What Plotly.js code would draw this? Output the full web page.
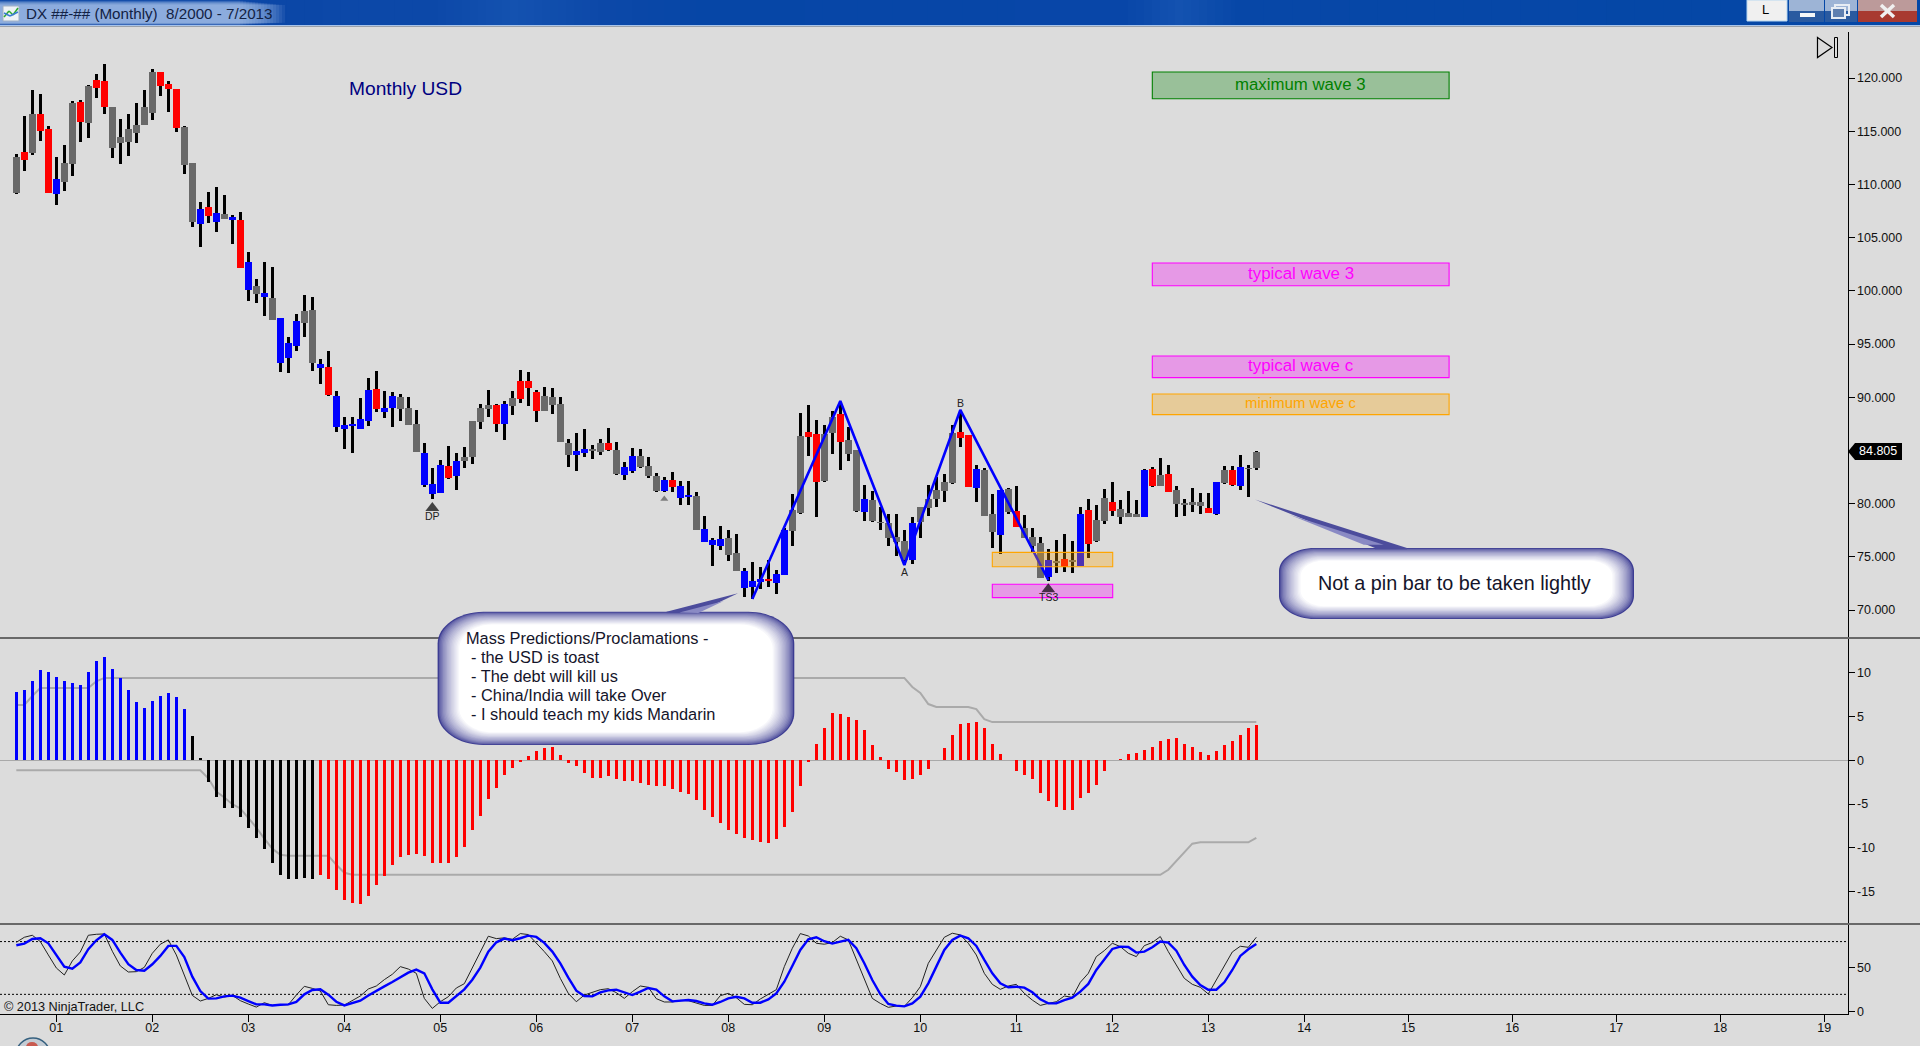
<!DOCTYPE html>
<html>
<head>
<meta charset="utf-8">
<title>DX Monthly</title>
<script src="https://cdn.plot.ly/plotly-3.0.1.min.js"></script>
<style>html,body{margin:0;padding:0;background:#dcdcdc;overflow:hidden}#chart{width:1920px;height:1046px}</style>
</head>
<body>
<div id="chart"></div>
<script>
// ---------- candles, Aug 2000 - Jul 2013 ----------
const bodyTop = [112.57,113.04,116.62,116.62,115.21,110.51,112.01,117.68,117.77,119.25,
119.81,119.72,117.27,114.45,115.21,115.58,117.27,120.56,120.56,119.44,
118.97,115.39,112.01,107.69,107.88,107.31,107.22,106.94,106.65,102.71,
100.45,99.79,99.32,97.44,95.09,97.16,98.10,98.19,93.11,92.83,
90.11,87.38,87.48,87.95,90.67,90.76,88.98,90.11,90.01,88.98,
87.48,84.75,81.84,83.62,83.53,84.00,84.37,87.76,88.98,89.26,
89.26,89.35,89.92,91.52,91.52,90.48,90.11,90.01,89.35,85.69,
84.94,85.13,85.13,85.69,85.69,85.03,83.43,84.47,84.48,83.54,
82.60,82.22,82.22,81.66,80.81,80.72,77.62,76.58,76.68,76.77,
75.36,73.67,72.73,72.92,72.88,73.39,77.52,79.40,86.36,86.73,
86.54,86.54,88.14,88.42,85.98,85.04,80.44,80.34,78.27,78.18,
76.86,76.49,78.18,79.68,80.44,81.28,82.03,86.61,86.73,86.45,
83.26,83.16,79.03,81.28,81.38,79.31,77.71,76.86,76.30,74.70,
74.58,74.80,74.70,79.03,79.40,78.46,80.53,80.15,79.50,79.12,
79.03,83.16,83.26,82.69,82.79,81.28,80.03,80.15,80.15,79.59,
82.03,83.16,83.16,83.44,83.38,84.85];
const bodyBot = [109.22,112.32,112.95,115.05,109.22,109.13,110.26,111.95,115.90,115.80,
119.06,117.27,113.42,113.89,114.02,114.83,115.58,116.74,119.25,118.97,
115.30,111.85,106.50,106.28,107.03,106.47,106.75,106.65,102.14,100.07,
99.73,99.42,97.25,93.24,93.71,94.81,97.00,93.18,92.74,90.20,
87.19,87.01,87.29,87.01,87.76,88.88,88.60,88.98,88.88,87.38,
84.84,81.74,80.90,80.99,82.40,82.59,84.00,84.37,87.66,88.88,
87.48,87.48,89.17,89.82,90.86,88.70,88.70,89.29,85.78,84.56,
84.56,84.75,84.94,84.84,85.03,82.78,82.68,83.06,83.41,82.60,
81.19,81.19,81.56,80.53,80.62,77.52,76.39,76.11,76.02,75.17,
73.67,72.07,72.16,72.63,72.76,72.54,73.29,77.43,79.12,86.26,
82.03,82.13,86.64,85.79,84.66,79.31,79.21,78.37,78.15,76.77,
76.39,74.70,74.70,78.27,79.59,80.44,81.19,81.94,86.17,81.56,
81.47,78.84,77.33,77.05,79.21,77.80,76.77,76.02,73.01,73.10,
74.45,74.07,74.55,74.14,76.21,76.49,78.37,79.31,78.74,78.74,
78.74,78.74,81.66,81.66,81.09,79.97,79.90,79.90,79.78,79.12,
79.03,81.94,81.75,81.66,83.29,83.35];
const wickHigh = [112.86,116.43,118.87,118.50,115.49,112.57,113.70,117.84,117.93,119.34,
120.38,121.31,117.27,116.15,116.62,117.65,118.87,120.85,120.56,119.72,
118.97,115.49,112.01,108.35,109.28,109.75,109.00,107.12,107.41,103.65,
101.11,102.71,102.24,97.44,95.66,97.82,99.60,99.42,93.58,94.34,
90.58,88.13,88.13,89.92,91.80,92.46,90.58,90.48,90.29,90.01,
88.79,85.69,83.34,84.09,85.41,84.75,85.31,87.76,89.35,90.67,
89.35,89.64,90.58,92.55,92.36,90.67,90.95,90.86,90.01,86.07,
86.63,87.01,85.50,86.07,87.10,85.78,83.90,85.22,85.13,84.38,
82.91,82.50,82.97,82.13,82.13,81.09,78.84,76.77,77.90,77.52,
77.15,73.95,74.51,74.04,74.70,73.76,77.71,80.91,88.52,89.27,
87.86,87.39,88.71,89.55,87.20,85.04,81.75,81.19,79.68,79.03,
79.03,77.52,78.74,79.68,81.75,82.50,82.79,87.39,88.80,86.45,
83.63,83.35,80.91,81.28,81.47,81.66,78.93,77.71,76.86,75.74,
76.58,77.15,76.49,79.68,80.44,79.87,81.38,82.03,80.34,81.19,
80.34,83.26,83.44,84.29,83.63,81.66,80.44,81.47,81.00,81.00,
82.03,83.54,83.54,84.57,83.63,84.95];
const wickLow = [109.13,111.26,112.76,114.08,109.22,108.06,109.38,110.79,113.98,114.36,
118.12,116.62,112.48,111.92,112.67,113.89,115.58,116.05,118.31,116.80,
114.92,110.98,106.00,104.12,106.37,105.53,106.75,104.40,102.14,99.04,
98.85,97.63,97.25,92.36,92.27,94.34,95.66,92.46,91.23,90.11,
86.72,85.13,84.75,87.01,87.29,88.60,88.04,87.19,87.76,87.38,
84.84,81.55,80.43,80.99,82.31,81.27,83.34,83.72,87.01,88.13,
86.72,85.97,88.32,89.45,89.17,87.66,88.70,88.41,85.78,83.43,
83.06,84.37,84.19,84.56,84.94,82.68,82.21,82.87,83.35,82.41,
81.09,81.09,81.09,79.87,79.87,77.52,76.39,74.14,75.64,74.61,
73.67,71.22,71.04,71.98,72.16,71.51,73.29,76.02,79.03,84.48,
78.74,82.03,84.66,83.16,84.01,79.21,78.37,78.27,77.52,76.02,
75.08,74.23,74.33,76.77,78.84,79.68,80.15,81.85,85.32,81.56,
80.15,78.84,75.83,75.27,79.03,77.80,76.77,75.45,73.01,72.73,
73.48,73.57,73.48,74.14,74.89,76.39,78.09,78.84,78.09,78.74,
78.74,78.74,81.56,81.66,81.09,78.74,78.84,79.21,79.03,79.12,
78.93,81.85,81.66,81.28,80.62,83.16];
const candleKeys = "grgrrbggrgrrggggggrrrggbrbgbrbgbgbbbggbrbbbbbrbbgggbbbrbggggrbgrrrggggbbggrgbbgggbrbbgbbbggbbbrbbggrrggrggbgggggbgggggrrbggbgrgggbgrgbrggrgggbrgrggggrbgrbgg";

// ---------- oscillator histogram + bands ----------
const histValues = [7.80,8.03,9.06,10.32,10.09,9.52,9.06,8.83,8.60,10.09,
11.35,11.81,10.44,9.40,8.03,6.65,5.96,6.77,7.34,7.68,
7.22,5.85,2.75,0.23,-2.52,-4.24,-5.39,-5.39,-6.42,-7.68,
-8.83,-10.09,-11.70,-13.07,-13.53,-13.53,-13.42,-13.53,-13.07,-13.53,
-14.79,-15.94,-16.28,-16.40,-15.48,-14.22,-13.19,-11.93,-11.01,-10.78,
-10.67,-10.89,-11.70,-11.70,-11.70,-11.01,-9.86,-7.91,-6.31,-4.47,
-3.21,-1.72,-0.92,-0.15,0.46,1.03,1.38,1.49,0.57,-0.34,
-0.69,-1.49,-2.06,-2.06,-1.83,-2.18,-2.41,-2.41,-2.64,-2.87,
-2.98,-2.98,-3.33,-3.67,-3.90,-4.59,-5.62,-6.42,-7.11,-7.91,
-8.37,-8.83,-9.06,-9.29,-9.40,-8.94,-7.57,-5.85,-2.98,-0.15,
1.83,3.67,5.39,5.28,4.93,4.59,3.44,1.72,0.34,-1.03,
-1.38,-2.29,-2.18,-1.72,-1.03,0,1.38,2.87,4.13,4.20,
4.36,3.67,1.83,0.69,0,-1.26,-1.72,-2.18,-3.78,-4.70,
-5.28,-5.73,-5.73,-4.36,-3.78,-2.87,-1.26,0,0.15,0.69,
0.80,1.15,1.49,2.18,2.41,2.52,1.83,1.49,0.92,0.57,
1.03,1.72,2.18,2.87,3.67,4.01];
const histKeys = "bbbbbbbbbbbbbbbbbbbbbbkkkkkkkkkkkkkkkkrrrrrrrrrrrrrrrrrrrrrrrrrrrrrrrrrrrrrrrrrrrrrrrrrrrrrrrrrrrrrrrrrrrrrrrrrrrrrrrrrrrrrrrrrrrrrrrrrrrrrrrrrrrrrrrrrrrrrr";
const bandUpper = [6.31,6.31,7.34,8.26,8.26,8.26,8.26,8.26,8.26,8.26,
9.02,9.40,9.40,9.40,9.40,9.40,9.40,9.40,9.40,9.40,
9.40,9.40,9.40,9.40,9.40,9.40,9.40,9.40,9.40,9.40,
9.40,9.40,9.40,9.40,9.40,9.40,9.40,9.40,9.40,9.40,
9.40,9.40,9.40,9.40,9.40,9.40,9.40,9.40,9.40,9.40,
9.40,9.40,9.40,9.40,9.40,9.40,9.40,9.40,9.40,9.40,
9.40,9.40,9.40,9.40,9.40,9.40,9.40,9.40,9.40,9.40,
9.40,9.40,9.40,9.40,9.40,9.40,9.40,9.40,9.40,9.40,
9.40,9.40,9.40,9.40,9.40,9.40,9.40,9.40,9.40,9.40,
9.40,9.40,9.40,9.40,9.40,9.40,9.40,9.40,9.40,9.40,
9.40,9.40,9.40,9.40,9.40,9.40,9.40,9.40,9.40,9.40,
9.40,9.40,8.37,7.68,6.42,6.08,6.08,6.08,6.08,6.08,
5.85,4.70,4.36,4.36,4.36,4.36,4.36,4.36,4.36,4.36,
4.36,4.36,4.36,4.36,4.36,4.36,4.36,4.36,4.36,4.36,
4.36,4.36,4.36,4.36,4.36,4.36,4.36,4.36,4.36,4.36,
4.36,4.36,4.36,4.36,4.36,4.36];
const bandLower = [-1.15,-1.15,-1.15,-1.15,-1.15,-1.15,-1.15,-1.15,-1.15,-1.15,
-1.15,-1.15,-1.15,-1.15,-1.15,-1.15,-1.15,-1.15,-1.15,-1.15,
-1.15,-1.15,-1.15,-1.15,-2.06,-3.56,-4.24,-5.01,-5.50,-6.54,
-7.68,-8.94,-10.09,-10.78,-10.89,-10.89,-10.89,-10.89,-10.89,-10.89,
-11.93,-12.84,-13.07,-13.07,-13.07,-13.07,-13.07,-13.07,-13.07,-13.07,
-13.07,-13.07,-13.07,-13.07,-13.07,-13.07,-13.07,-13.07,-13.07,-13.07,
-13.07,-13.07,-13.07,-13.07,-13.07,-13.07,-13.07,-13.07,-13.07,-13.07,
-13.07,-13.07,-13.07,-13.07,-13.07,-13.07,-13.07,-13.07,-13.07,-13.07,
-13.07,-13.07,-13.07,-13.07,-13.07,-13.07,-13.07,-13.07,-13.07,-13.07,
-13.07,-13.07,-13.07,-13.07,-13.07,-13.07,-13.07,-13.07,-13.07,-13.07,
-13.07,-13.07,-13.07,-13.07,-13.07,-13.07,-13.07,-13.07,-13.07,-13.07,
-13.07,-13.07,-13.07,-13.07,-13.07,-13.07,-13.07,-13.07,-13.07,-13.07,
-13.07,-13.07,-13.07,-13.07,-13.07,-13.07,-13.07,-13.07,-13.07,-13.07,
-13.07,-13.07,-13.07,-13.07,-13.07,-13.07,-13.07,-13.07,-13.07,-13.07,
-13.07,-13.07,-13.07,-13.07,-12.50,-11.47,-10.55,-9.52,-9.37,-9.37,
-9.37,-9.37,-9.37,-9.37,-9.37,-8.87];

// ---------- stochastics ----------
const stochK = [79.2,84.9,87.2,80.0,64.8,50.0,42.0,58.0,68.2,87.2,
88.3,88.7,69.0,52.3,45.4,45.8,50.7,66.7,77.0,81.9,
64.8,40.9,18.8,12.4,15.4,19.6,16.9,18.8,12.8,9.0,
5.5,10.5,7.4,8.2,8.2,19.2,29.1,26.8,23.8,8.2,
7.4,7.8,12.8,18.1,26.1,29.5,36.7,42.8,51.5,48.8,
43.9,15.4,4.0,11.6,17.3,27.2,32.1,50.7,68.6,86.1,
83.4,84.2,82.6,89.1,88.0,78.9,68.6,58.0,38.2,21.1,
11.6,19.2,22.3,25.3,26.4,21.9,15.4,23.0,29.5,28.0,
15.1,11.3,11.3,13.1,12.8,10.5,7.4,7.4,18.5,21.1,
16.2,8.6,8.2,14.7,20.0,25.3,51.5,72.4,89.1,86.4,
78.1,77.0,78.9,86.1,81.9,59.1,38.2,15.4,9.7,5.2,
6.7,6.3,16.2,28.7,55.3,69.7,84.9,89.5,87.6,78.1,
64.8,43.9,31.4,25.7,29.5,31.4,21.1,13.5,7.4,9.7,
11.6,18.1,16.6,33.7,43.9,62.9,69.7,78.1,74.3,66.7,
62.9,75.4,78.9,85.7,68.6,53.4,38.2,31.4,28.0,20.4,
36.3,53.4,68.2,74.7,73.5,84.9];
const stochD = [75.8,77.7,83.0,83.8,78.1,64.8,51.5,49.2,56.4,71.3,
81.5,88.3,81.9,67.5,54.2,47.7,46.9,54.2,63.7,75.1,
75.1,62.5,40.1,23.8,15.1,15.4,17.7,18.5,16.2,12.4,
8.6,8.6,7.4,8.2,8.6,11.3,20.0,24.9,25.7,19.6,
11.6,7.4,9.7,12.8,18.8,24.2,29.1,34.0,39.3,44.7,
48.1,43.9,25.7,10.5,10.5,17.7,25.7,36.7,50.4,68.6,
79.2,83.4,81.5,83.8,86.8,85.3,78.5,68.6,55.3,39.0,
24.2,18.1,17.7,22.3,24.5,25.3,22.6,19.2,23.0,27.2,
25.3,17.7,12.0,12.4,13.5,12.4,9.7,8.2,11.3,15.4,
17.3,15.4,10.5,10.5,14.3,21.1,34.4,52.3,70.5,82.6,
84.9,80.4,77.7,80.0,81.9,72.4,55.3,36.3,20.4,9.0,
7.1,6.3,9.7,17.3,32.5,51.5,70.5,81.9,86.8,83.8,
75.1,59.1,43.9,32.5,28.0,28.7,27.6,22.3,14.3,9.7,
9.7,13.5,16.2,23.0,31.8,47.7,59.1,71.6,74.3,73.9,
67.5,68.6,73.5,80.0,78.9,69.7,53.4,40.1,30.6,25.3,
25.3,33.7,47.7,63.7,71.3,77.3];

// ---------- wave overlay and marks ----------
const waveMonths = [92,103,111,118,129];
const wavePrices = [71.04,89.65,74.23,88.80,72.82];
const markerMonths = [52,81,129];
const markerPrices = [79.59,80.43,71.95];
const markerSizes = [12,7,12];
const markerShades = ["#000000","#555555","#000000"];
const pointLabels = ["DP","A","B","TS3"];
const pointLabelMonths = [52,111,118,129];
const pointLabelPrices = [78.82,73.54,89.48,71.22];

// ---------- price zones ----------
const zoneLabels = ["maximum wave 3","typical wave 3","typical wave c","minimum wave c","",""];
const zoneFontSizes = [16.8,16.9,16.9,14.9,0,0];
const zoneStart = [142,142,142,142,122,122];
const zoneEnd = [179.1,179.1,179.1,179.1,137.05,137.05];
const zoneTop = [120.56,102.61,93.87,90.30,75.42,72.42];
const zoneBottom = [118.05,100.48,91.84,88.36,74.07,71.16];
const zoneColors = ["0,128,0","255,0,255","255,0,255","255,165,0","255,165,0","255,0,255"];
const zoneLayers = ["above","above","above","above","above","below"];

// ---------- axes text ----------
const yearLabels = ["01","02","03","04","05","06","07","08","09","10","11","12","13","14","15","16","17","18","19"];
const yearMonths = [5,17,29,41,53,65,77,89,101,113,125,137,149,161,174,187,200,213,226];
const priceTicks = [70,75,80,90,95,100,105,110,115,120];
const priceLabels = ["70.000","75.000","80.000","90.000","95.000","100.000","105.000","110.000","115.000","120.000"];
const histTicks = [10,5,0,-5,-10,-15];
const histLabels = ["10","5","0","-5","-10","-15"];
const stochTicks = [0,50];
const stochLabels = ["0","50"];
const lastPriceText = "84.805";
const massLines = ["Mass Predictions/Proclamations -","- the USD is toast","- The debt will kill us","- China/India will take Over","- I should teach my kids Mandarin"];
const pinText = "Not a pin bar to be taken lightly";

// ---------- helpers ----------
const W=1920,H=1046, FONT='"Liberation Sans", Arial, sans-serif';
const PX=v=>v/W, PY=v=>1-v/H;
const months=bodyTop.map((_,i)=>i);
const candleColorMap={g:"#696969",r:"#ff0000",b:"#0000ff"};
const histColorMap={b:"#0000ff",k:"#000000",r:"#ff0000"};
const shapes=[], annos=[];
const fx=n=>n.toFixed(5);
function rectPx(x0,y0,x1,y1,fill,line,lw){shapes.push({type:"rect",xref:"paper",yref:"paper",x0:PX(x0),x1:PX(x1),y0:PY(y1),y1:PY(y0),fillcolor:fill,line:{color:line||"rgba(0,0,0,0)",width:lw||0}});}
function linePx(x0,y0,x1,y1,color,w,layer){shapes.push({type:"line",xref:"paper",yref:"paper",x0:PX(x0),x1:PX(x1),y0:PY(y0),y1:PY(y1),line:{color:color,width:w},layer:layer||"above"});}
function pathPx(pts,fill,line,lw){let d=pts.map((p,i)=>(i?"L":"M")+fx(PX(p[0]))+","+fx(PY(p[1]))).join(" ")+" Z";shapes.push({type:"path",xref:"paper",yref:"paper",path:d,fillcolor:fill,line:{color:line||"rgba(0,0,0,0)",width:lw||0}});}
function roundedPx(x0,y0,x1,y1,rx,ry,fill){
  const X=PX,Y=PY;
  let d=`M${fx(X(x0+rx))},${fx(Y(y0))} L${fx(X(x1-rx))},${fx(Y(y0))} C${fx(X(x1-rx*0.45))},${fx(Y(y0))} ${fx(X(x1))},${fx(Y(y0+ry*0.45))} ${fx(X(x1))},${fx(Y(y0+ry))} L${fx(X(x1))},${fx(Y(y1-ry))} C${fx(X(x1))},${fx(Y(y1-ry*0.45))} ${fx(X(x1-rx*0.45))},${fx(Y(y1))} ${fx(X(x1-rx))},${fx(Y(y1))} L${fx(X(x0+rx))},${fx(Y(y1))} C${fx(X(x0+rx*0.45))},${fx(Y(y1))} ${fx(X(x0))},${fx(Y(y1-ry*0.45))} ${fx(X(x0))},${fx(Y(y1-ry))} L${fx(X(x0))},${fx(Y(y0+ry))} C${fx(X(x0))},${fx(Y(y0+ry*0.45))} ${fx(X(x0+rx*0.45))},${fx(Y(y0))} ${fx(X(x0+rx))},${fx(Y(y0))} Z`;
  shapes.push({type:"path",xref:"paper",yref:"paper",path:d,fillcolor:fill,line:{color:"rgba(0,0,0,0)",width:0}});
}
function mix(t){const a=[60,60,146];return "rgb("+a.map(c=>Math.round(c+(255-c)*t)).join(",")+")";}
function callout(x0,y0,x1,y1,rx,ry,tail){
  const n=17;
  for(let k=0;k<n;k++){
    if(k===2){
      pathPx([tail[0],tail[1],[tail[1][0],y0+5],[tail[2][0],y0+5],tail[2]],"#4c4c9c");
      const c=[(tail[0][0]+tail[1][0]+tail[2][0])/3,(tail[0][1]+tail[1][1]+tail[2][1])/3];
      pathPx(tail.map(p=>[c[0]+(p[0]-c[0])*0.62,c[1]+(p[1]-c[1])*0.62+3]),"#8a8ac4");
    }
    const t=Math.pow(k/(n-1),0.62);
    const iy=k*0.8, ix=k*1.35;
    roundedPx(x0+ix,y0+iy,x1-ix,y1-iy,Math.max(rx-ix*.6,6),Math.max(ry-iy*.6,6),mix(t));
  }
}
function label(text,x,y,size,color,anchor){annos.push({text:text,xref:"paper",yref:"paper",x:PX(x),y:PY(y),xanchor:anchor||"center",yanchor:"middle",showarrow:false,font:{family:FONT,size:size,color:color},align:"left"});}

// ---------- window chrome ----------
const barStops=[[0,[10,70,166]],[430,[12,72,168]],[510,[20,82,176]],[600,[12,72,168]],[700,[6,70,166]],[1120,[8,70,168]],[1175,[20,82,176]],[1235,[7,71,167]],[1920,[4,71,166]]];
for(let s=0;s<barStops.length-1;s++){
  const a=barStops[s],b=barStops[s+1],step=Math.max(8,(b[0]-a[0])/24);
  for(let x=a[0];x<b[0];x+=step){
    const f=(x-a[0])/(b[0]-a[0]);
    rectPx(x,0,Math.min(x+step+1,b[0]+1),25,"rgb("+a[1].map((c,j)=>Math.round(c+(b[1][j]-c)*f)).join(",")+")");
  }
}
for(let k=0;k<16;k++){ rectPx(0,0.5+k*0.3,240+k*3,25-k*0.15,"rgba(190,210,240,0.085)"); }
rectPx(0,25,W,26.2,"#a8c4ea");
rectPx(0,26.2,W,27,"#8a8f98");
// icon
rectPx(3,6,19,21,"#eef2f6","#9fb0c4",1);
linePx(4,17,9,11,"#2faa2f",1.5); linePx(9,11,13,15,"#2faa2f",1.5); linePx(13,15,18,8,"#2faa2f",1.5);
linePx(4,13,10,16,"#3a7bd5",1.5); linePx(10,16,18,12,"#3a7bd5",1.5);
label("DX ##-## (Monthly)  8/2000 - 7/2013",24,13.5,15.2,"#122244","left");
// buttons
rectPx(1747,0,1787,21,"#f0f0f0","#b8d8f0",1);
label("L",1765,9.5,13,"#000000");
const btn=[[1789,1824,"#9db4d6","#2a5aa0"],[1825,1857,"#9db4d6","#2a5aa0"],[1858,1917,"#bc9a9a","#a83a30"]];
btn.forEach(b=>{rectPx(b[0],0,b[1],11,b[2]);rectPx(b[0],11,b[1],22,b[3]);});
rectPx(1800,13,1815,17,"#f4f6f8");
rectPx(1835,5,1849,15,"rgba(255,255,255,0)","#e6ecf4",2); rectPx(1832,8,1845,18,"#5e7fb0","#e6ecf4",2);
linePx(1881,5,1894,17,"#f0f0f0",3.5); linePx(1894,5,1881,17,"#f0f0f0",3.5);
// jump-to-end arrow
pathPx([[1817.5,37.5],[1832,47.5],[1817.5,57.5]],"rgba(0,0,0,0)","#000000",1.2);
rectPx(1834.5,37.5,1837.5,57.5,"rgba(0,0,0,0)","#000000",1);

// panel separators
linePx(0,638,W,638,"#696969",2);
linePx(0,924,W,924,"#696969",2);

// dotted stochastic levels
[80,20].forEach(v=>shapes.push({type:"line",xref:"x",yref:"y3",x0:-2.04,x1:228.9,y0:v,y1:v,layer:"below",line:{color:"#000000",width:1,dash:"2px,2px"}}));

// price zones
zoneLabels.forEach((t,i)=>{
  shapes.push({type:"rect",xref:"x",yref:"y",layer:zoneLayers[i],x0:zoneStart[i],x1:zoneEnd[i],y0:zoneBottom[i],y1:zoneTop[i],fillcolor:"rgba("+zoneColors[i]+",0.3)",line:{color:"rgb("+zoneColors[i]+")",width:1.1}});
  if(t) annos.push({text:t,xref:"x",yref:"y",x:(zoneStart[i]+zoneEnd[i])/2,y:(zoneTop[i]+zoneBottom[i])/2,yshift:1,showarrow:false,font:{family:FONT,size:zoneFontSizes[i],color:"rgb("+zoneColors[i]+")"}});
});

// point labels
pointLabels.forEach((t,i)=>annos.push({text:t,xref:"x",yref:"y",x:pointLabelMonths[i],y:pointLabelPrices[i],showarrow:false,font:{family:FONT,size:10.5,color:"#222222"}}));

// last price tag
pathPx([[1848,451.5],[1855,443],[1902,443],[1902,460],[1855,460]],"#000000");
label(lastPriceText,1878,451.5,12.5,"#ffffff");

// callouts
callout(437.6,611.7,794.3,745,46,32,[[738,593.3],[666.5,611.7],[697,612.7]]);
callout(1279,548,1634,619,36,23,[[1255,499.6],[1375,548],[1407,548]]);
massLines.forEach((t,i)=>label(t,i?469:463.5,638.3+19*i,16.35,"#14142a","left"));
label(pinText,1454,582.7,19.8,"#14142a");

// start orb, free text
shapes.push({type:"circle",xref:"paper",yref:"paper",x0:PX(16),x1:PX(50),y0:PY(1072),y1:PY(1038),fillcolor:"#c4ccd4",line:{color:"#35607f",width:1.5}});
shapes.push({type:"circle",xref:"paper",yref:"paper",x0:PX(26),x1:PX(38),y0:PY(1052),y1:PY(1042),fillcolor:"#c85a50",line:{color:"#c85a50",width:0}});
label("Monthly USD",405.5,88.7,19.2,"#000080");
label("\u00A9 2013 NinjaTrader, LLC",2,1006.7,12.7,"#111111","left");

// ---------- traces ----------
const traces=[
 {type:"scatter",mode:"lines",x:months,y:bandUpper,xaxis:"x",yaxis:"y2",line:{color:"#aaaaaa",width:2},hoverinfo:"skip"},
 {type:"scatter",mode:"lines",x:months,y:bandLower,xaxis:"x",yaxis:"y2",line:{color:"#aaaaaa",width:2},hoverinfo:"skip"},
 {type:"bar",x:months,base:wickLow,y:wickHigh.map((v,i)=>v-wickLow[i]),width:0.375,xaxis:"x",yaxis:"y",marker:{color:"#000000",line:{width:0}},hoverinfo:"skip"},
 {type:"bar",x:months,base:bodyBot,y:bodyTop.map((v,i)=>v-bodyBot[i]),width:0.875,xaxis:"x",yaxis:"y",marker:{color:candleKeys.split("").map(k=>candleColorMap[k]),line:{width:0}},hoverinfo:"skip"},
 {type:"scatter",mode:"lines",x:waveMonths,y:wavePrices,xaxis:"x",yaxis:"y",line:{color:"#0000ff",width:2.6},hoverinfo:"skip"},
 {type:"scatter",mode:"markers",x:markerMonths,y:markerPrices,xaxis:"x",yaxis:"y",marker:{symbol:"triangle-up",size:markerSizes,color:markerShades,line:{width:0}},hoverinfo:"skip"},
 {type:"bar",x:months,y:histValues,width:0.375,xaxis:"x",yaxis:"y4",marker:{color:histKeys.split("").map(k=>histColorMap[k]),line:{width:0}},hoverinfo:"skip"},
 {type:"scatter",mode:"lines",x:months,y:stochK,xaxis:"x",yaxis:"y3",line:{color:"#222222",width:1},hoverinfo:"skip"},
 {type:"scatter",mode:"lines",x:months,y:stochD,xaxis:"x",yaxis:"y3",line:{color:"#0000ff",width:2.4},hoverinfo:"skip"}
];

const yCommon={side:"right",anchor:"x",showgrid:false,zeroline:false,showline:true,linecolor:"#000000",linewidth:1,ticks:"outside",ticklen:6,tickcolor:"#000000",tickwidth:1,tickmode:"array",tickfont:{family:FONT,size:12.5,color:"#111111"},fixedrange:true};
const histRange=[-18.69,13.96];
const layout={
 width:W,height:H,autosize:false,margin:{l:0,r:0,t:0,b:0,pad:0},
 paper_bgcolor:"#dcdcdc",plot_bgcolor:"#dcdcdc",showlegend:false,barmode:"overlay",bargap:0,hovermode:false,
 xaxis:{domain:[0,1847.5/W],range:[-2.04,228.9],anchor:"y3",showgrid:false,zeroline:false,showline:true,linecolor:"#000000",linewidth:1,ticks:"outside",ticklen:7,tickcolor:"#000000",tickwidth:1,tickmode:"array",tickvals:yearMonths,ticktext:yearLabels,tickfont:{family:FONT,size:12.5,color:"#111111"},ticklabelstandoff:-5,fixedrange:true},
 yaxis:Object.assign({},yCommon,{domain:[1-638/H,1-32/H],range:[120-(638-78)/10.64,120+(78-32)/10.64],tickvals:priceTicks,ticktext:priceLabels}),
 yaxis2:Object.assign({},yCommon,{domain:[1-924/H,1-638/H],range:histRange,tickvals:histTicks,ticktext:histLabels,zeroline:true,zerolinecolor:"#a9a9a9",zerolinewidth:1,ticklabelshift:-1.5}),
 yaxis3:Object.assign({},yCommon,{domain:[1-1014.3/H,1-924/H],range:[-2.7,100],tickvals:stochTicks,ticktext:stochLabels,ticklabelshift:-2.5}),
 yaxis4:{overlaying:"y2",side:"right",anchor:"x",range:histRange,visible:false,fixedrange:true},
 shapes:shapes,annotations:annos
};
Plotly.newPlot("chart",traces,layout,{staticPlot:true,displayModeBar:false});
</script>
</body>
</html>
